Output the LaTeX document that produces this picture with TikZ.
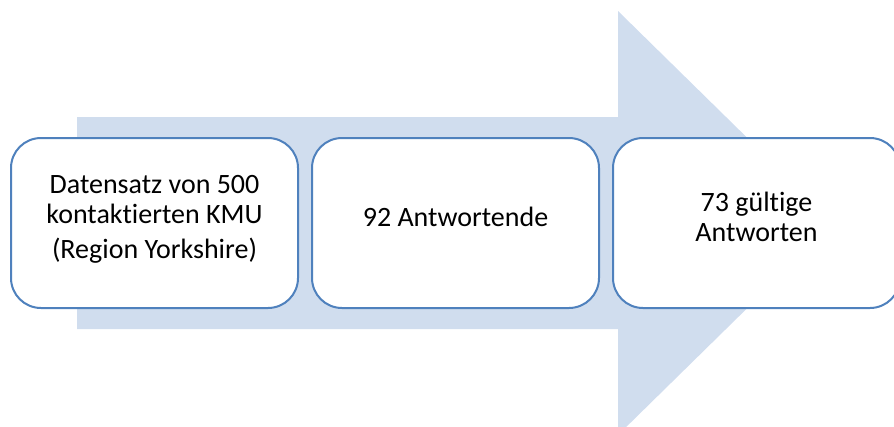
\documentclass[tikz,border=0pt]{standalone}
\usepackage{fontspec}
\setmainfont{Carlito}[Ligatures=NoCommon,RawFeature={-liga;-clig;-calt}]
\usepackage{tikz}
\usetikzlibrary{shapes,arrows}
\usetikzlibrary{positioning}
\usetikzlibrary{calc}
\definecolor{arrowblue}{RGB}{208,221,238}
\definecolor{boxblue}{RGB}{79,129,189}
\newcommand\stagenode[3][]{%
  \node[stage,#1] (#2) {#3};
}

\begin{document}
\begin{tikzpicture}[x=1pt, y=-1pt,
node distance= 12pt,
stage/.style={
  rectangle,
  rounded corners=30pt,
  draw=boxblue,
  line width=2pt,
  fill=white,
  minimum width=287pt,
  minimum height=170pt,
  align=center,
  text depth=12pt,
  font=\fontsize{28}{29.5}\selectfont}
]
\useasboundingbox (0,0) rectangle (894,426);
% big arrow behind the boxes
\fill[arrowblue] (77,117) -- (618,117) -- (618,11) -- (834,223) -- (618,435) -- (618,329) -- (77,329) -- cycle;
\stagenode[at={(154.5,223)}]{data}{Datensatz von 500\\kontaktierten KMU\\[6pt](Region Yorkshire)}
\stagenode[right=of data]{resp}{92 Antwortende}
\stagenode[right=of resp]{valid}{73 gültige\\Antworten}
\end{tikzpicture}
\end{document}
